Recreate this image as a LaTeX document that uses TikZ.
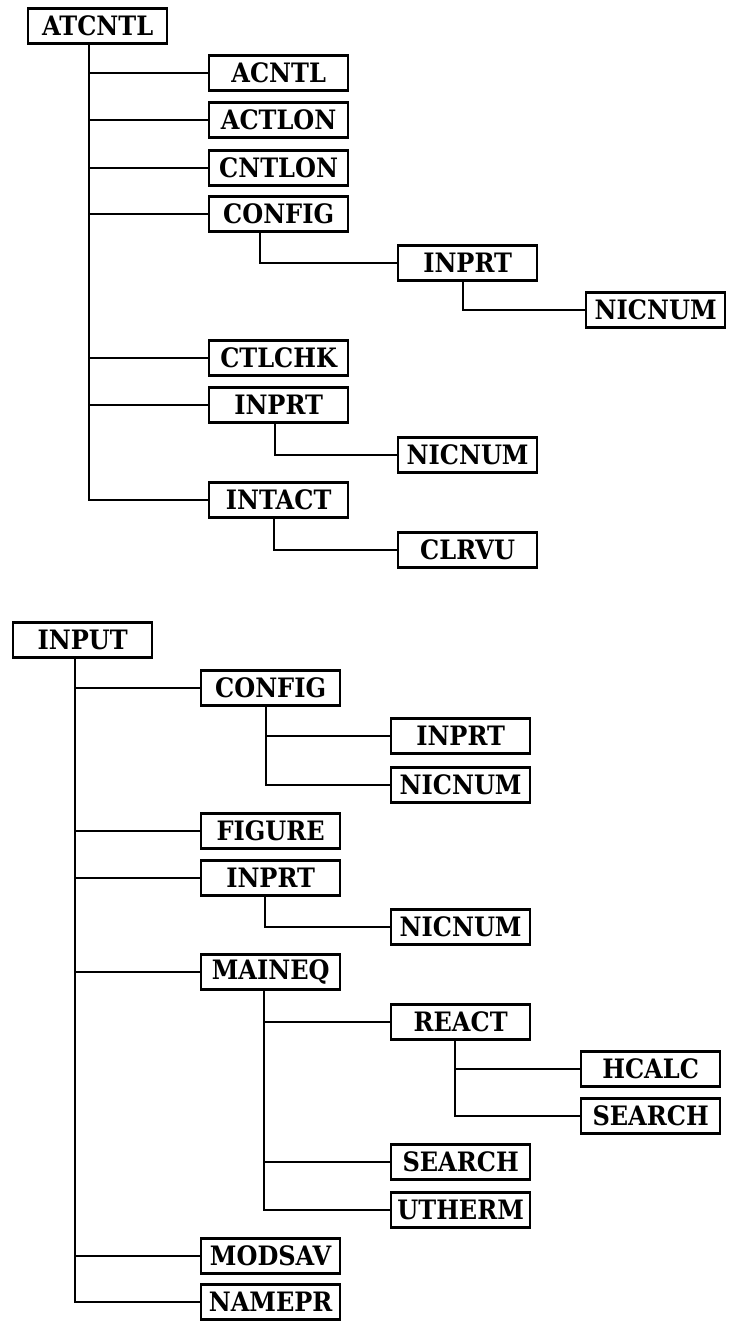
\documentclass[tikz,border=0pt]{standalone}
\usepackage{fontspec}
\setmainfont{DejaVu Serif}[FakeStretch=0.9]
\usetikzlibrary{
  positioning,
  calc}
\tikzset{
  %% routine : one subroutine box of the calling tree
  routine/.style={
    rectangle,
    draw=black,
    line width=1.6pt,
    minimum width=3.475cm,
    minimum height=0.875cm,
    inner sep=0pt,
    anchor=west,
    font=\fontsize{19}{21}\selectfont\bfseries
  },
  %% call : line from a caller down and across to the routine it calls
  call/.style={line width=1.3pt}
}

\begin{document}
\begin{tikzpicture}
  [x=0.025cm,
  y=-0.025cm]

  %% page frame
  \fill [white] (0, 0) rectangle (737, 1328);
  \useasboundingbox (0, 0) rectangle (737, 1328);

  %%% ATCNTL and the routines it calls
  \node (atcntl) [routine] at (27, 26) {ATCNTL};

  \node (acntl) [routine] at (208, 73) {ACNTL};
  \node (actlon) [routine] at (208, 120) {ACTLON};
  \node (cntlon) [routine] at (208, 168) {CNTLON};
  \node (configa) [routine] at (208, 214) {CONFIG};
  \node (inprta) [routine] at (397, 263) {INPRT};
  \node (nicnuma) [routine] at (585, 310) {NICNUM};
  \node (ctlchk) [routine] at (208, 358) {CTLCHK};
  \node (inprtb) [routine] at (208, 405) {INPRT};
  \node (nicnumb) [routine] at (397, 455) {NICNUM};
  \node (intact) [routine] at (208, 500) {INTACT};
  \node (clrvu) [routine] at (397, 550) {CLRVU};

  %% Connections
  \coordinate (trunka) at ([xshift=1.55cm]atcntl.south west);
  \draw [call] (trunka) |- (acntl);
  \draw [call] (trunka) |- (actlon);
  \draw [call] (trunka) |- (cntlon);
  \draw [call] (trunka) |- (configa);
  \draw [call] (trunka) |- (ctlchk);
  \draw [call] (trunka) |- (inprtb);
  \draw [call] (trunka) |- (intact);

  \draw [call] ([xshift=1.3cm]configa.south west) |- (inprta);
  \draw [call] ([xshift=1.65cm]inprta.south west) |- (nicnuma);
  \draw [call] ([xshift=1.675cm]inprtb.south west) |- (nicnumb);
  \draw [call] ([xshift=1.65cm]intact.south west) |- (clrvu);

  %%% INPUT and the routines it calls
  \node (input) [routine] at (12, 640) {INPUT};

  \node (configb) [routine] at (200, 688) {CONFIG};
  \node (inprtc) [routine] at (390, 736) {INPRT};
  \node (nicnumc) [routine] at (390, 785) {NICNUM};
  \node (figure) [routine] at (200, 831) {FIGURE};
  \node (inprtd) [routine] at (200, 878) {INPRT};
  \node (nicnumd) [routine] at (390, 927) {NICNUM};
  \node (maineq) [routine] at (200, 972) {MAINEQ};
  \node (react) [routine] at (390, 1022) {REACT};
  \node (hcalc) [routine] at (580, 1069) {HCALC};
  \node (searcha) [routine] at (580, 1116) {SEARCH};
  \node (searchb) [routine] at (390, 1162) {SEARCH};
  \node (utherm) [routine] at (390, 1210) {UTHERM};
  \node (modsav) [routine] at (200, 1256) {MODSAV};
  \node (namepr) [routine] at (200, 1302) {NAMEPR};

  %% Connections
  \coordinate (trunkb) at ([xshift=1.575cm]input.south west);
  \draw [call] (trunkb) |- (configb);
  \draw [call] (trunkb) |- (figure);
  \draw [call] (trunkb) |- (inprtd);
  \draw [call] (trunkb) |- (maineq);
  \draw [call] (trunkb) |- (modsav);
  \draw [call] (trunkb) |- (namepr);

  \coordinate (branchconfig) at ([xshift=1.65cm]configb.south west);
  \draw [call] (branchconfig) |- (inprtc);
  \draw [call] (branchconfig) |- (nicnumc);

  \draw [call] ([xshift=1.625cm]inprtd.south west) |- (nicnumd);

  \coordinate (branchmaineq) at ([xshift=1.6cm]maineq.south west);
  \draw [call] (branchmaineq) |- (react);
  \draw [call] (branchmaineq) |- (searchb);
  \draw [call] (branchmaineq) |- (utherm);

  \coordinate (branchreact) at ([xshift=1.625cm]react.south west);
  \draw [call] (branchreact) |- (hcalc);
  \draw [call] (branchreact) |- (searcha);

\end{tikzpicture}
\end{document}
